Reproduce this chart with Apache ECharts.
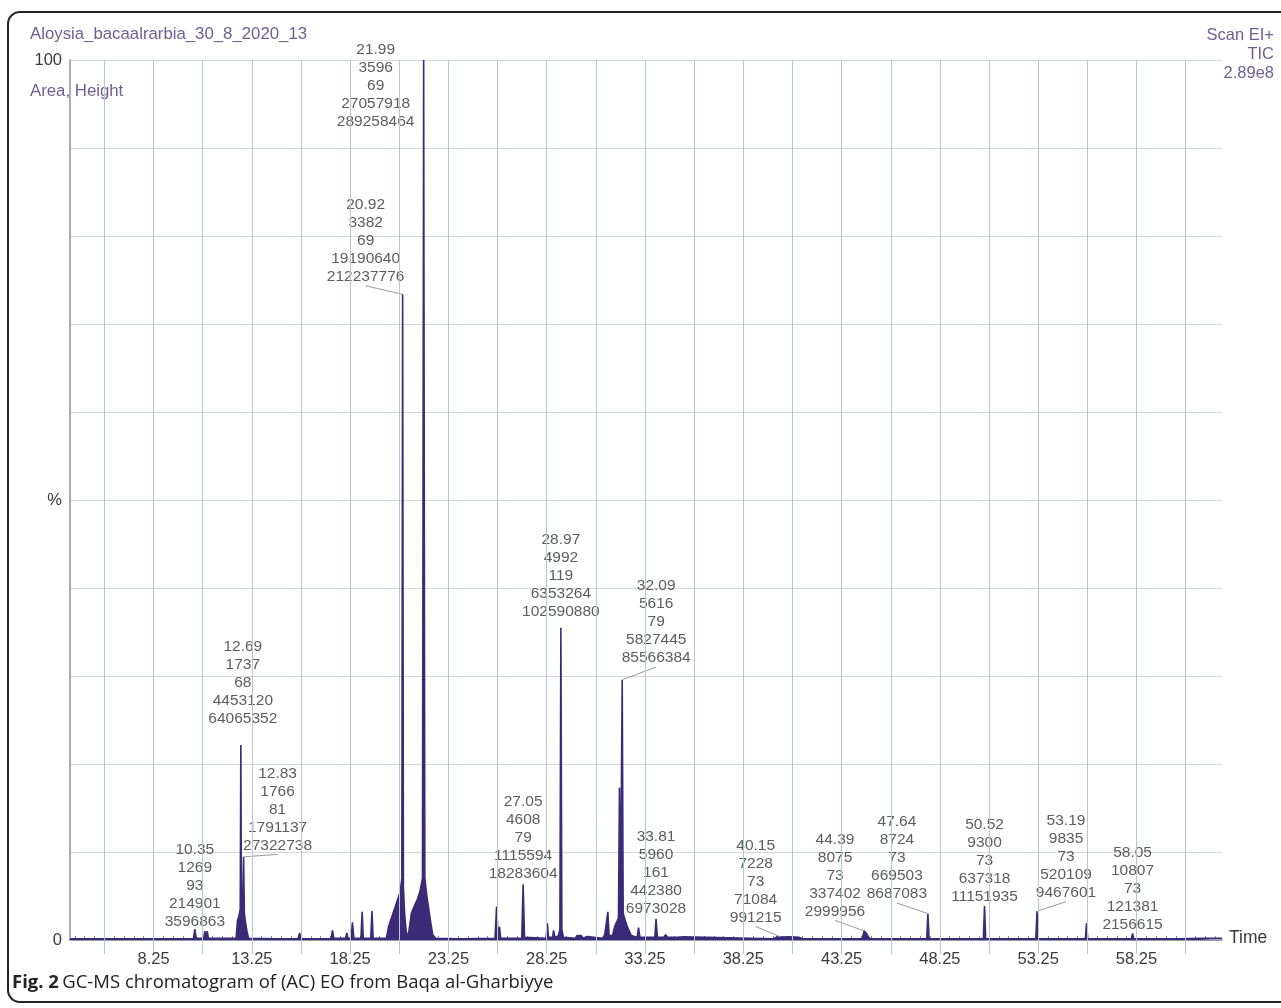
<!DOCTYPE html>
<html>
<head>
<meta charset="utf-8">
<script src="https://cdn.jsdelivr.net/npm/echarts@6/dist/echarts.min.js"></script>
<style>
html,body{margin:0;padding:0;background:#fff;}
#chart{width:1281px;height:1008px;}
</style>
</head>
<body>
<div id="chart"></div>
<script>
// ---- Data ----
const traceTimes = [4.0,7.05,7.15,7.25,8.6,8.7,8.8,10.28,10.35,10.42,10.8,10.86,10.92,10.98,11.04,
12.45,12.52,12.6,12.66,12.69,12.72,12.78,12.83,12.87,12.93,13.0,13.08,
14.5,14.55,14.6,15.6,15.68,15.76,16.6,16.65,16.7,17.28,17.35,17.42,18.02,18.08,18.14,
18.3,18.37,18.44,18.8,18.86,18.92,19.3,19.36,19.42,
20.1,20.2,20.35,20.5,20.65,20.8,20.88,20.92,20.96,21.02,21.1,21.2,
21.3,21.36,21.5,21.65,21.8,21.93,21.99,22.05,22.15,22.25,22.35,22.45,22.6,
23.7,23.8,23.9,25.62,25.7,25.78,25.85,25.9,26.98,27.05,27.12,
28.22,28.28,28.34,28.55,28.6,28.66,28.85,28.92,28.97,29.02,29.1,
29.7,29.8,29.9,30.0,30.1,30.3,30.4,
31.1,31.2,31.3,31.36,31.42,31.6,31.7,31.8,31.9,31.95,32.0,32.05,32.09,32.14,32.25,32.35,32.45,32.5,32.55,
32.85,32.92,32.99,33.5,33.6,33.75,33.81,33.88,34.2,34.3,34.4,34.7,34.8,34.9,35.2,35.3,
39.8,39.95,40.15,40.6,41.1,41.25,44.3,44.39,44.5,44.6,44.7,
47.58,47.64,47.7,50.46,50.52,50.58,53.13,53.19,53.25,55.65,55.71,55.77,
57.99,58.05,58.11,60.2,60.3,60.4,61.5,62.6];
const traceValues = [0.15,0.15,0.35,0.15,0.15,0.3,0.15,0.15,1.24,0.2,0.2,1.0,0.3,1.0,0.2,
0.2,2.2,2.8,3.5,22.15,4,3.5,9.45,3,2,1,0.2,
0.15,0.3,0.15,0.15,0.8,0.15,0.15,0.3,0.15,0.15,1.1,0.2,0.2,0.8,0.2,
0.2,2.0,0.2,0.2,3.2,0.2,0.2,3.3,0.2,
0.2,1.5,2.5,3.5,4.5,5.5,7,73.37,6,3,1,0.3,
0.4,3.0,3.8,4.5,5.5,7,100,7,5,3.5,2,0.6,0.2,
0.15,0.3,0.15,0.2,3.8,0.5,1.5,0.2,0.2,6.32,0.3,
0.2,1.9,0.3,0.3,1.1,0.3,0.5,1.2,35.47,1.2,0.3,
0.2,0.5,0.3,0.5,0.2,0.4,0.2,
0.2,0.6,0.4,3.2,0.5,0.5,1.5,2.0,2.5,17.3,3,3.2,29.58,3,2.2,1.5,1.0,1.2,0.5,
0.3,1.4,0.3,0.3,0.5,0.3,2.41,0.3,0.3,0.6,0.3,0.3,0.5,0.3,0.35,0.2,
0.15,0.35,0.34,0.35,0.3,0.15,0.15,1.04,0.8,0.4,0.15,
0.15,3.0,0.15,0.15,3.86,0.15,0.15,3.27,0.15,0.15,1.9,0.15,
0.15,0.75,0.15,0.15,0.3,0.15,0.2,0.2];

const peakTimes   = [10.35,12.69,12.83,20.92,21.99,27.05,28.97,32.09,33.81,40.15,44.39,47.64,50.52,53.19,58.05];
const peakScans   = [1269,1737,1766,3382,3596,4608,4992,5616,5960,7228,8075,8724,9300,9835,10807];
const peakMasses  = [93,68,81,69,69,79,119,79,161,73,73,73,73,73,73];
const peakAreas   = [214901,4453120,1791137,19190640,27057918,1115594,6353264,5827445,442380,71084,337402,669503,637318,520109,121381];
const peakHeights = [3596863,64065352,27322738,212237776,289258464,18283604,102590880,85566384,6973028,991215,2999956,8687083,11151935,9467601,2156615];
const fullScale = 289258464; // 2.89e8 = 100 %

const xTickLabels = [8.25,13.25,18.25,23.25,28.25,33.25,38.25,43.25,48.25,53.25,58.25];
const xGridLines  = [5.75,8.25,10.75,13.25,15.75,18.25,20.75,23.25,25.75,28.25,30.75,33.25,35.75,38.25,40.75,43.25,45.75,48.25,50.75,53.25,55.75,58.25,60.75];

// ---- Layout / style (not data) ----
const labelShift = [[0,2,0],[2,-17,0],[34,-2,1],[-37,-8,1],[-48,71,0],[0,-1,0],[0,-7,0],[34,-12,1],[0,-1,0],[-25,-10,1],[-29,-10,1],[-31,-10,1],[0,0,0],[29,-9,1],[0,1,0]];
const minorTicks = [];
for (let v = 4.25; v < 62.6; v += 0.5) minorTicks.push(+v.toFixed(2));

const purple = '#3b2a78';
const textPurple = '#6c5f93';
const font = '"Liberation Sans", Arial, sans-serif';

const trace = traceTimes.map((t, i) => [t, traceValues[i]]);
const peaks = peakTimes.map((t, i) => ({
  value: [t, peakHeights[i] / fullScale * 100],
  labelLine: { show: !!labelShift[i][2] },
  text: t.toFixed(2) + '\n' + peakScans[i] + '\n' + peakMasses[i] + '\n' + peakAreas[i] + '\n' + peakHeights[i]
}));

const chart = echarts.init(document.getElementById('chart'), null, { renderer: 'canvas' });
chart.setOption({
  animation: false,
  backgroundColor: '#fff',
  textStyle: { fontFamily: font },
  grid: { left: 70, right: 59, top: 60, bottom: 68 },
  xAxis: [{
    type: 'value', min: 4.0, max: 62.6,
    axisLine: { show: true, lineStyle: { color: '#7d8b9a', width: 1.5 } },
    axisTick: { show: true, inside: true, length: 4, customValues: minorTicks, lineStyle: { color: '#7d8b9a' } },
    axisLabel: { show: false },
    splitLine: { show: false }
  }, {
    type: 'value', min: 4.0, max: 62.6, position: 'bottom',
    axisLine: { show: false },
    axisTick: { show: true, inside: false, length: 14, customValues: xGridLines, lineStyle: { color: '#b9c8cd' } },
    axisLabel: { show: true, customValues: xTickLabels, margin: 11, color: '#3a3a3a', fontSize: 16.5, fontFamily: font,
      formatter: v => v.toFixed(2) },
    splitLine: { show: false }
  }],
  yAxis: {
    type: 'value', min: 0, max: 100, interval: 10,
    axisLine: { show: true, lineStyle: { color: '#8a96a0', width: 1.5 } },
    axisTick: { show: false },
    axisLabel: { color: '#3a3a3a', fontSize: 16.5, margin: 8, fontFamily: font,
      formatter: v => v === 100 ? '100' : v === 0 ? '0' : v === 50 ? '%' : '' },
    splitLine: { show: true, lineStyle: { color: '#cfdada', width: 1 } }
  },
  series: [{
    type: 'line', name: 'grid', data: [[4, 0]], symbol: 'none', silent: true, z: 1,
    lineStyle: { width: 0, opacity: 0 },
    markLine: {
      silent: true, symbol: ['none', 'none'], label: { show: false },
      lineStyle: { color: '#b9c8cd', width: 1, type: 'solid' },
      emphasis: { disabled: true },
      data: xGridLines.map(v => ({ xAxis: v }))
    }
  }, {
    type: 'line', name: 'TIC', data: trace, symbol: 'none', z: 3,
    lineStyle: { color: purple, width: 1.6 },
    areaStyle: { color: purple, opacity: 1 }
  }, {
    type: 'scatter', name: 'peaks', data: peaks, z: 4,
    symbolSize: 1, itemStyle: { color: 'rgba(0,0,0,0)' },
    label: {
      show: true, position: 'top', distance: 0,
      formatter: p => p.data.text,
      color: '#333', fontSize: 15.5, lineHeight: 18, align: 'center', fontFamily: font
    },
    labelLine: { show: false, lineStyle: { color: '#9a9a9a', width: 1 } },
    labelLayout: p => ({ dx: labelShift[p.dataIndex][0], dy: labelShift[p.dataIndex][1] })
  }],
  graphic: [
    { type: 'rect', shape: { x: 8, y: 12, width: 1300, height: 990, r: 12 },
      style: { fill: 'none', stroke: '#222', lineWidth: 2 }, silent: true },
    { type: 'text', x: 30, y: 26, style: { text: 'Aloysia_bacaalrarbia_30_8_2020_13', fill: textPurple, font: '16.8px ' + font } },
    { type: 'text', x: 30, y: 83, style: { text: 'Area, Height', fill: textPurple, font: '16.8px ' + font } },
    { type: 'text', x: 1274, y: 26, style: { text: 'Scan EI+\nTIC\n2.89e8', fill: textPurple, font: '16.5px ' + font, align: 'right', lineHeight: 19 } },
    { type: 'text', x: 1229, y: 929, style: { text: 'Time', fill: '#3a3a3a', font: '17.5px ' + font } },
    { type: 'text', x: 12, y: 973, style: {
      rich: { b: { fontWeight: 'bold', fontSize: 18.5, fontFamily: '"Open Sans", sans-serif', fill: '#222' },
              n: { fontSize: 18.5, fontFamily: '"Open Sans", sans-serif', fill: '#222' } },
      text: '{b|Fig. 2} {n|GC-MS chromatogram of (AC) EO from Baqa al-Gharbiyye}' } }
  ]
});
</script>
</body>
</html>
